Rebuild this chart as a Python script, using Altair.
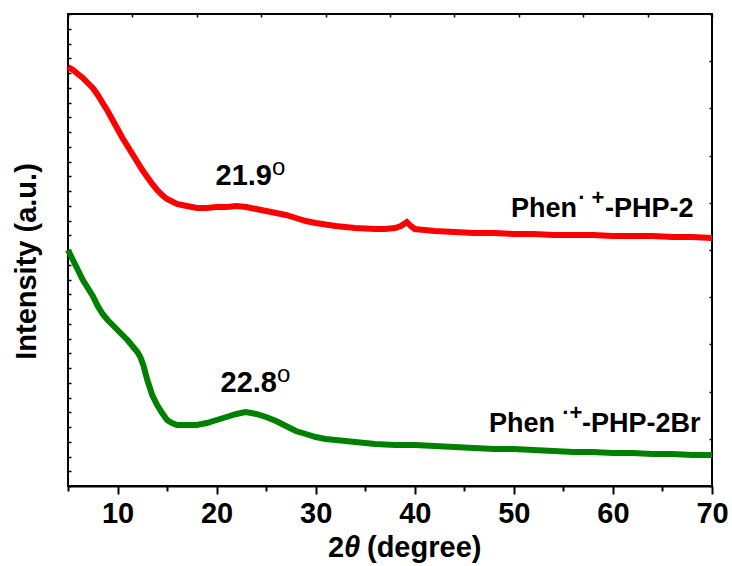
import altair as alt
import pandas as pd

# XRD patterns: 2-theta (degree) and intensity (a.u.)
red_2theta = [5, 5.5, 6, 6.5, 7, 7.5, 8, 8.5, 9, 9.5, 10, 10.5, 11, 11.5, 12, 12.5,
              13, 13.5, 14, 14.5, 15, 16, 17, 18, 19, 20, 21, 22, 23, 24, 25, 26,
              27, 28, 29, 30, 32, 34, 36, 37, 38, 38.6, 39.2, 39.6, 40, 42, 44, 46,
              48, 50, 52, 54, 56, 58, 60, 62, 64, 66, 68, 70]
red_intensity = [419, 416, 412, 408, 403, 398, 391, 383, 375, 366, 357, 348, 340, 332, 324, 316,
                 309, 302, 296, 291, 287, 282, 280, 278, 278, 279, 279, 280, 279, 277, 275, 273,
                 271, 268, 265, 263, 260, 258, 257, 257, 258, 260, 264, 260, 257, 255, 254, 253,
                 253, 252, 252, 251, 251, 251, 250, 250, 250, 249, 249, 248]

green_2theta = [5, 5.5, 6, 6.5, 7, 7.5, 8, 8.5, 9, 9.5, 10, 10.5, 11, 11.5, 12, 12.3,
                12.6, 13, 13.5, 14, 14.5, 15, 15.5, 16, 17, 18, 19, 20, 21, 22, 22.9, 23.5,
                24, 25, 26, 27, 28, 29, 30, 31, 32, 34, 36, 38, 40, 42, 44, 46,
                48, 50, 52, 54, 56, 58, 60, 62, 64, 66, 68, 70]
green_intensity = [236, 226, 216, 206, 198, 190, 180, 172, 166, 161, 156, 151, 146, 140, 134, 129,
                   121, 106, 91, 81, 73, 66, 63, 61, 61, 61, 63, 66, 69, 72, 74, 73,
                   72, 69, 65, 60, 55, 52, 49, 47, 46, 44, 42, 41, 41, 40, 39, 38,
                   37, 37, 36, 35, 34, 34, 33, 33, 32, 32, 31, 31]

# Peak labels and sample names
ann_text = ["21.9", "o", "22.8", "o",
            "Phen", "·", "+", "-PHP-2",
            "Phen", "·", "+", "-PHP-2Br"]
ann_x = [25.59, 25.59, 26.09, 26.09,
         56.37, 56.88, 58.49, 59.20,
         54.15, 55.26, 56.27, 56.88]
ann_y = [301, 311, 94, 104,
         269, 281, 281, 269,
         54, 66, 66, 54]
ann_size = [29, 24, 29, 24,
            27, 22, 22, 27,
            27, 22, 22, 27]
ann_weight = ["bold", "normal", "bold", "normal",
              "bold", "bold", "bold", "bold",
              "bold", "bold", "bold", "bold"]
ann_align = ["right", "left", "right", "left",
             "right", "center", "center", "left",
             "right", "center", "center", "left"]

FONT = "Liberation Sans"
W, H = 644, 472

red_df = pd.DataFrame({"t": red_2theta, "i": red_intensity})
green_df = pd.DataFrame({"t": green_2theta, "i": green_intensity})
ann_df = pd.DataFrame({"text": ann_text, "t": ann_x, "i": ann_y, "size": ann_size,
                       "weight": ann_weight, "align": ann_align})

xs = alt.Scale(domain=[5, 70], nice=False, zero=False)
ys = alt.Scale(domain=[0, 472], nice=False, zero=False)

left_ticks = [i * 472 / 32 for i in range(33)]
right_ticks = [i * 47.2 for i in range(11)]
top_ticks = [5 + 6.5 * i for i in range(11)]

red_line = alt.Chart(red_df).mark_line(color="#ff0000", strokeWidth=6).encode(
    x=alt.X("t:Q", scale=xs, axis=alt.Axis(
        orient="bottom", values=list(range(10, 71, 10)), tickSize=8, tickWidth=2,
        tickColor="black", domain=True, domainColor="black", domainWidth=2,
        labelFont=FONT, labelFontSize=29, labelFontWeight="bold", labelColor="black",
        labelPadding=5, labelFlush=False, grid=False, title=None)),
    y=alt.Y("i:Q", scale=ys, axis=alt.Axis(
        orient="left", offset=-3, values=left_ticks, tickSize=3, tickWidth=1.5,
        tickColor="black", domain=False, labels=False, grid=False,
        title="Intensity (a.u.)", titleFont=FONT, titleFontSize=29,
        titleFontWeight="bold", titleColor="black", titleAngle=270,
        titleAlign="center", titleBaseline="alphabetic", titleX=-36, titleY=247)),
)

green_line = alt.Chart(green_df).mark_line(color="#008000", strokeWidth=6).encode(
    x=alt.X("t:Q", scale=xs, axis=alt.Axis(
        orient="bottom", values=list(range(5, 70, 10)), tickSize=5, tickWidth=2,
        tickColor="black", domain=False, labels=False, grid=False, title=None)),
    y=alt.Y("i:Q", scale=ys, axis=alt.Axis(
        orient="right", offset=-3, values=right_ticks, tickSize=3, tickWidth=1.5,
        tickColor="black", domain=False, labels=False, grid=False, title=None)),
)

# annotation text, split by alignment and weight (mark-level properties)
ann_layers = []
for align in ["left", "center", "right"]:
    for weight in ["bold", "normal"]:
        sub = ann_df[(ann_df["align"] == align) & (ann_df["weight"] == weight)]
        if len(sub) == 0:
            continue
        ann_layers.append(
            alt.Chart(sub).mark_text(font=FONT, color="black", baseline="alphabetic",
                                     align=align, fontWeight=weight).encode(
                x=alt.X("t:Q", scale=xs, axis=None),
                y=alt.Y("i:Q", scale=ys, axis=None),
                text="text:N",
                size=alt.Size("size:Q", scale=None, legend=None),
            )
        )

# top frame ticks carried by an invisible layer
top_axis = alt.Chart(ann_df.head(1)).mark_point(opacity=0).encode(
    x=alt.X("t:Q", scale=xs, axis=alt.Axis(
        orient="top", offset=-3, values=top_ticks, tickSize=3, tickWidth=1.5,
        tickColor="black", domain=False, labels=False, grid=False, title=None)),
    y=alt.Y("i:Q", scale=ys, axis=None),
)

# x-axis title with italic theta
title_df = pd.DataFrame({"s": ["2", "θ", "(degree)"], "px": [260, 276, 299],
                         "style": ["normal", "italic", "normal"]})
title_layers = []
for style in ["normal", "italic"]:
    sub = title_df[title_df["style"] == style]
    title_layers.append(
        alt.Chart(sub).mark_text(font=FONT, fontSize=29, fontWeight="bold", fontStyle=style,
                                 color="black", align="left", baseline="alphabetic").encode(
            x=alt.X("px:Q", scale=None),
            y=alt.value(543),
            text="s:N",
        )
    )

chart = alt.layer(red_line, green_line, top_axis, *ann_layers, *title_layers).resolve_axis(
    x="independent", y="independent"
).properties(
    width=W, height=H,
    autosize=alt.AutoSizeParams(type="none"),
    padding={"left": 68, "top": 14, "right": 20, "bottom": 80},
    background="white",
).configure_view(stroke="black", strokeWidth=2)

chart.save("out.html", embed_options={"renderer": "svg", "actions": False})
